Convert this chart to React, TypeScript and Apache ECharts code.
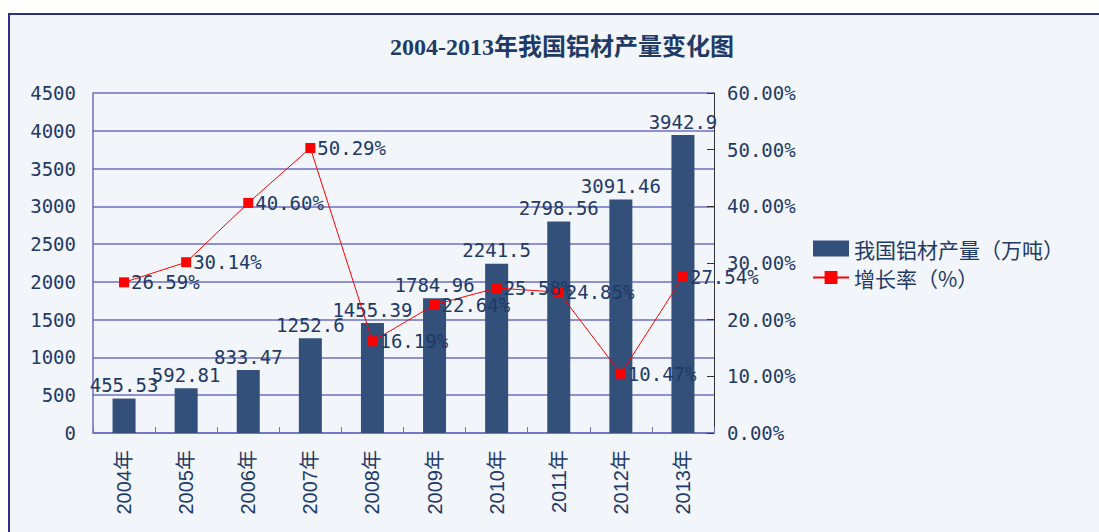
import React, { useEffect, useRef } from "react";
import * as echarts from "echarts";

const categories = ["2004年", "2005年", "2006年", "2007年", "2008年", "2009年", "2010年", "2011年", "2012年", "2013年"];
const outputValues = [455.53, 592.81, 833.47, 1252.6, 1455.39, 1784.96, 2241.5, 2798.56, 3091.46, 3942.9];
const growthValues = [26.59, 30.14, 40.6, 50.29, 16.19, 22.64, 25.58, 24.85, 10.47, 27.54];
const seriesNames = ["我国铝材产量（万吨）", "增长率（%）"];
const titleText = "2004-2013年我国铝材产量变化图";

const NAVY = "#1f3a66";
const GRID = "#6e6ec2";
const MONO = "'DejaVu Sans Mono', 'Noto Sans CJK SC', monospace";

export default function App() {
  const ref = useRef<HTMLDivElement>(null);
  useEffect(() => {
    const chart = echarts.init(ref.current!, null, { renderer: "svg" });
    chart.setOption({
      animation: false,
      backgroundColor: "#ffffff",
      graphic: [
        {
          type: "rect",
          z: -10,
          shape: { x: 9, y: 14, width: 1200, height: 600 },
          style: { fill: "#f2f5fa", stroke: "#2e2f8c", lineWidth: 2 },
        },
      ],
      title: {
        text: titleText,
        left: 385,
        top: 30,
        textStyle: {
          color: NAVY,
          fontSize: 24,
          fontWeight: "bold",
          fontFamily: "'Liberation Serif', 'Noto Sans CJK SC', serif",
        },
      },
      legend: {
        orient: "vertical",
        left: 807,
        top: 233,
        itemWidth: 36,
        itemHeight: 16,
        itemGap: 8,
        textStyle: {
          color: NAVY,
          fontSize: 21,
          lineHeight: 21,
          fontFamily: "'Noto Sans CJK SC', sans-serif",
        },
        data: [
          { name: seriesNames[0], icon: "rect" },
          { name: seriesNames[1] },
        ],
      },
      grid: { left: 93, right: 385, top: 93, bottom: 99 },
      xAxis: {
        type: "category",
        data: categories,
        axisLine: { lineStyle: { color: GRID, width: 1.5 } },
        axisTick: { show: true, inside: true, length: 6, lineStyle: { color: GRID } },
        axisLabel: {
          rotate: 90,
          margin: 17,
          color: NAVY,
          fontSize: 20,
          fontFamily: "'Liberation Sans', 'Noto Sans CJK SC', sans-serif",
        },
      },
      yAxis: [
        {
          type: "value",
          min: 0,
          max: 4500,
          interval: 500,
          axisLine: { show: true, lineStyle: { color: GRID, width: 1.5 } },
          axisTick: { show: false },
          splitLine: { show: true, lineStyle: { color: GRID, width: 1.5 } },
          axisLabel: {
            margin: 17,
            color: NAVY,
            fontSize: 19,
            fontFamily: MONO,
            formatter: (v: number) => String(v),
          },
        },
        {
          type: "value",
          min: 0,
          max: 60,
          interval: 10,
          position: "right",
          axisLine: { show: true, lineStyle: { color: "#333333" } },
          axisTick: { show: true, inside: true, length: 7, lineStyle: { color: "#333333" } },
          splitLine: { show: false },
          axisLabel: {
            margin: 13,
            color: NAVY,
            fontSize: 19,
            fontFamily: MONO,
            formatter: (v: number) => v.toFixed(2) + "%",
          },
        },
      ],
      series: [
        {
          name: seriesNames[0],
          type: "bar",
          data: outputValues,
          barWidth: 23,
          itemStyle: { color: "#32507a" },
          label: {
            show: true,
            position: "top",
            distance: 4,
            color: NAVY,
            fontSize: 19,
            fontFamily: MONO,
          },
        },
        {
          name: seriesNames[1],
          type: "line",
          yAxisIndex: 1,
          data: growthValues,
          symbol: "rect",
          symbolSize: 10,
          z: 5,
          lineStyle: { color: "#ff0000", width: 1 },
          itemStyle: { color: "#ff0000" },
          label: {
            show: true,
            position: "right",
            distance: 2,
            color: NAVY,
            fontSize: 19,
            fontFamily: MONO,
            formatter: (p: any) => Number(p.value).toFixed(2) + "%",
          },
        },
      ],
    });
    return () => chart.dispose();
  }, []);
  return (
    <div
      ref={ref}
      style={{ position: "fixed", left: 0, top: 0, width: 1099, height: 532 }}
    />
  );
}
